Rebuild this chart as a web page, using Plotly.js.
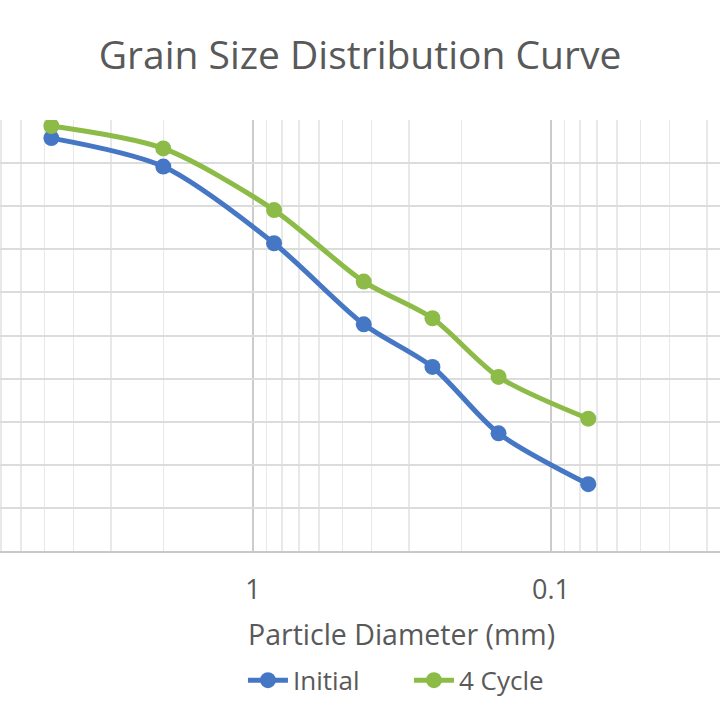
<!DOCTYPE html>
<html>
<head>
<meta charset="utf-8">
<script src="https://cdn.plot.ly/plotly-3.0.1.min.js"></script>
<style>
  html, body { margin: 0; padding: 0; background: #ffffff; }
  #chart { width: 720px; height: 720px; }
</style>
</head>
<body>
<div id="chart"></div>
<script>
// Sieve sizes (mm) and percent passing for each sample
const diameters = [4.75, 2.0, 0.85, 0.425, 0.25, 0.15, 0.075];
const initialPassing = [95.8, 89.2, 71.4, 52.6, 42.7, 27.3, 15.5];
const cyclePassing = [98.6, 93.4, 79.1, 62.5, 54.0, 40.4, 30.7];
const seriesNames = ['Initial', '4 Cycle'];
const xTickVals = [1, 0.1];
const xTickText = ['1', '0.1'];
const xAxisTitle = 'Particle Diameter (mm)';

const textColor = '#595959';
const fontFamily = '"Open Sans", "Noto Sans", sans-serif';

function series(name, ys, color) {
  return {
    type: 'scatter',
    mode: 'lines+markers',
    name: name,
    x: diameters,
    y: ys,
    line: { color: color, width: 5, shape: 'spline', smoothing: 0.8 },
    marker: { color: color, size: 16, line: { width: 0 } }
  };
}

const data = [
  series(seriesNames[0], initialPassing, '#4677C4'),
  series(seriesNames[1], cyclePassing, '#8DBB48')
];

const layout = {
  width: 720,
  height: 720,
  margin: { l: 0, r: 0, t: 120, b: 169 },
  paper_bgcolor: '#ffffff',
  plot_bgcolor: '#ffffff',
  font: { family: fontFamily, color: textColor, size: 27 },
  title: {
    text: 'Grain Size Distribution Curve',
    font: { family: fontFamily, size: 39, color: textColor },
    x: 0.5, xanchor: 'center',
    y: 1 - 55 / 720, yref: 'container', yanchor: 'middle'
  },
  xaxis: {
    type: 'log',
    range: [0.849, -1.567],
    tickvals: xTickVals,
    ticktext: xTickText,
    ticks: 'outside',
    ticklen: 14,
    tickcolor: 'rgba(0,0,0,0)',
    tickfont: { size: 27, color: textColor },
    showgrid: true,
    gridcolor: '#CCCCCC',
    gridwidth: 2,
    minor: { dtick: 'D1', showgrid: true, gridcolor: '#E8E8E8', gridwidth: 1.5, ticks: '' },
    showline: true,
    linecolor: '#C8C8C8',
    linewidth: 2,
    zeroline: false
  },
  yaxis: {
    range: [0, 100],
    dtick: 10,
    showticklabels: false,
    showgrid: true,
    gridcolor: '#DCDCDC',
    gridwidth: 2,
    zeroline: false,
    showline: false,
    fixedrange: true
  },
  annotations: [{
    text: xAxisTitle,
    xref: 'paper', yref: 'paper',
    x: 0.5576, y: -0.1926,
    xanchor: 'center', yanchor: 'middle',
    showarrow: false,
    font: { size: 28.5, color: textColor }
  }],
  showlegend: true,
  legend: {
    orientation: 'h',
    x: 0.568, xanchor: 'center',
    y: -0.30, yanchor: 'middle',
    font: { size: 26, color: textColor },
    itemwidth: 40,
    entrywidth: 111,
    entrywidthmode: 'pixels',
    tracegroupgap: 0
  }
};

Plotly.newPlot('chart', data, layout, { displayModeBar: false, staticPlot: true });
</script>
</body>
</html>
